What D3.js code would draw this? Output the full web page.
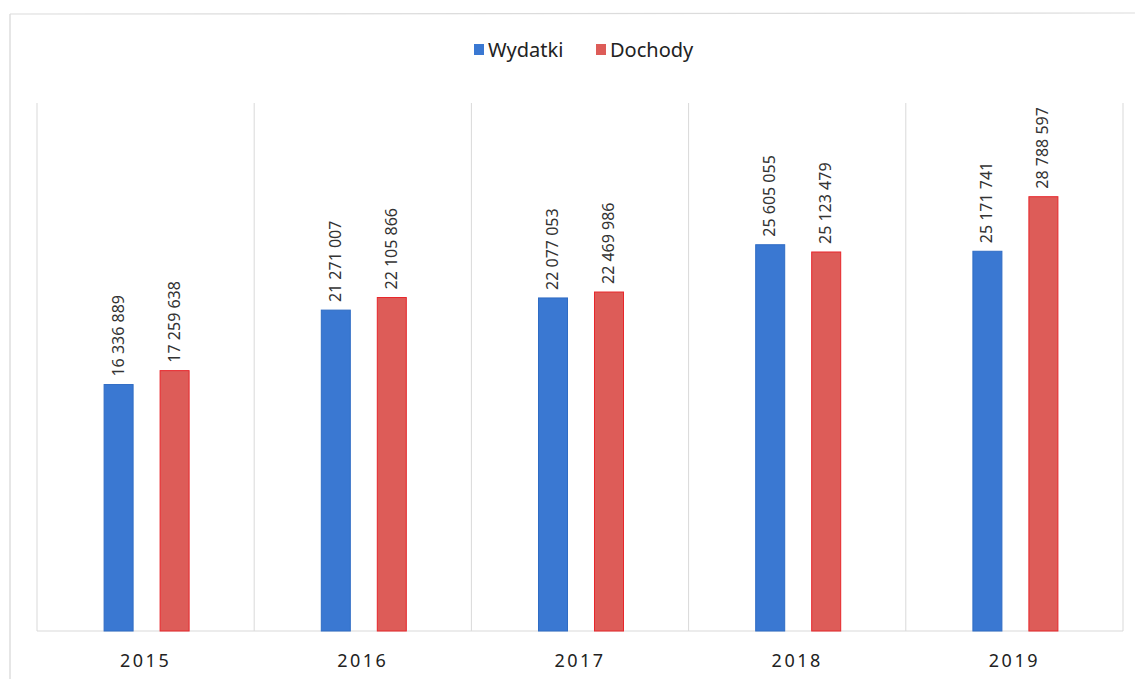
<!DOCTYPE html>
<html>
<head>
<meta charset="utf-8">
<script src="https://cdn.jsdelivr.net/npm/d3@7"></script>
<style>
  body { margin: 0; background: #fff; }
  text { font-family: "Noto Sans", "DejaVu Sans", sans-serif; }
</style>
</head>
<body>
<div class="canva"></div>
<script>
const years = ["2015", "2016", "2017", "2018", "2019"]
const seriesNames = ["Wydatki", "Dochody"]
const wydatki = [16336889, 21271007, 22077053, 25605055, 25171741]
const dochody = [17259638, 22105866, 22469986, 25123479, 28788597]
const colors = ["#3a78d2", "#dd5c58"]
const strokes = ["#2f6cc4", "#e8262b"]

const width = 1141
const height = 679
const svg = d3.select(".canva").append("svg").attr("width", width).attr("height", height)

// chart frame (scan edges)
svg.append("line").attr("x1", 10).attr("x2", 10).attr("y1", 14).attr("y2", height)
  .attr("stroke", "#d6d6d6").attr("stroke-width", 1.2)
svg.append("line").attr("x1", 10).attr("x2", 1135).attr("y1", 14).attr("y2", 13)
  .attr("stroke", "#dcdcdc").attr("stroke-width", 1.2)

const plotLeft = 37, plotRight = 1123, plotTop = 103, plotBottom = 631

const x0 = d3.scaleBand().domain(years).range([plotLeft, plotRight]).padding(0)
const groupW = 85
const x1 = d3.scaleBand().domain(seriesNames)
  .range([(x0.bandwidth() - groupW) / 2 + 1, (x0.bandwidth() + groupW) / 2 + 1])
  .paddingInner(0.482)
const y = d3.scaleLinear().domain([0, 35000000]).range([plotBottom, plotTop])

// vertical separators
const edges = years.map(d => x0(d)).concat([plotRight])
svg.append("g").selectAll("line").data(edges).enter().append("line")
  .attr("x1", d => d).attr("x2", d => d)
  .attr("y1", plotTop).attr("y2", plotBottom)
  .attr("stroke", "#d9d9d9").attr("stroke-width", 1)

// baseline
svg.append("line").attr("x1", plotLeft).attr("x2", plotRight).attr("y1", plotBottom).attr("y2", plotBottom)
  .attr("stroke", "#d9d9d9").attr("stroke-width", 1)

const rows = years.map((yr, i) => ({ year: yr, values: [wydatki[i], dochody[i]] }))
const fmt = v => d3.format(",")(v).replace(/,/g, " ")

const groups = svg.append("g").selectAll("g").data(rows).enter().append("g")
  .attr("transform", d => `translate(${x0(d.year)},0)`)

groups.selectAll("rect")
  .data(d => d.values.map((v, j) => ({ name: seriesNames[j], v, j })))
  .enter().append("rect")
  .attr("x", d => x1(d.name))
  .attr("y", d => y(d.v))
  .attr("width", x1.bandwidth())
  .attr("height", d => plotBottom - y(d.v))
  .attr("fill", d => colors[d.j])
  .attr("stroke", d => strokes[d.j])
  .attr("stroke-width", 1)

groups.selectAll("text.val")
  .data(d => d.values.map((v, j) => ({ name: seriesNames[j], v, j })))
  .enter().append("text")
  .attr("class", "val")
  .attr("transform", d => `translate(${x1(d.name) + x1.bandwidth() / 2 + 5},${y(d.v) - 8}) rotate(-90)`)
  .attr("font-size", 16)
  .attr("fill", "#333")
  .text(d => fmt(d.v))

// year labels
svg.append("g").selectAll("text").data(years).enter().append("text")
  .attr("x", d => x0(d) + x0.bandwidth() / 2)
  .attr("y", 667)
  .attr("text-anchor", "middle")
  .attr("font-size", 18)
  .attr("letter-spacing", 2.5)
  .attr("fill", "#222")
  .text(d => d)

// legend
const legend = svg.append("g").attr("transform", "translate(474,50)")
const items = [{ name: seriesNames[0], x: 0 }, { name: seriesNames[1], x: 122 }]
items.forEach((it, j) => {
  legend.append("rect").attr("x", it.x).attr("y", -6).attr("width", 10).attr("height", 11)
    .attr("fill", colors[j])
  legend.append("text").attr("x", it.x + 14).attr("y", 7)
    .attr("font-size", 20).attr("fill", "#222").text(it.name)
})
</script>
</body>
</html>
